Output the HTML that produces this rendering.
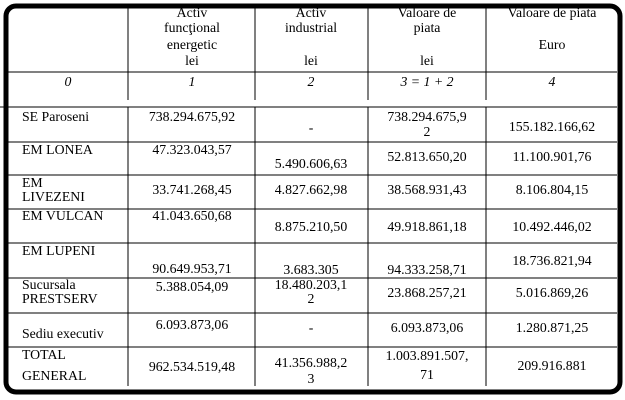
<!DOCTYPE html>
<html><head><meta charset="utf-8"><style>
html,body{margin:0;padding:0;background:#fff;}
svg{display:block;}
text{font-family:"Liberation Serif",serif;font-size:13.8px;fill:#000;}
.c{text-anchor:middle;}
.i{font-style:italic;}
</style></head><body>
<svg width="625" height="400" viewBox="0 0 625 400">
<rect x="6" y="6" width="614" height="386" rx="10" fill="none" stroke="#000" stroke-width="5"/>
<g stroke="#000" stroke-width="1">
<line x1="8" y1="72" x2="617" y2="72"/>
<line x1="0" y1="107" x2="617" y2="107"/>
<line x1="8" y1="142" x2="617" y2="142"/>
<line x1="8" y1="175" x2="617" y2="175"/>
<line x1="8" y1="209" x2="617" y2="209"/>
<line x1="8" y1="243" x2="617" y2="243"/>
<line x1="8" y1="278" x2="617" y2="278"/>
<line x1="8" y1="313" x2="617" y2="313"/>
<line x1="8" y1="347" x2="617" y2="347"/>
<line x1="128" y1="8" x2="128" y2="100"/><line x1="128" y1="107" x2="128" y2="386"/>
<line x1="255" y1="8" x2="255" y2="100"/><line x1="255" y1="107" x2="255" y2="386"/>
<line x1="368" y1="8" x2="368" y2="100"/><line x1="368" y1="107" x2="368" y2="386"/>
<line x1="486" y1="8" x2="486" y2="100"/><line x1="486" y1="107" x2="486" y2="386"/>
</g>
<text class="c" x="192" y="17">Activ</text>
<text class="c" x="192" y="32">funcţional</text>
<text class="c" x="192" y="49">energetic</text>
<text class="c" x="192" y="65">lei</text>
<text class="c" x="311" y="17">Activ</text>
<text class="c" x="311" y="32">industrial</text>
<text class="c" x="311" y="65">lei</text>
<text class="c" x="427" y="17">Valoare de</text>
<text class="c" x="427" y="32">piata</text>
<text class="c" x="427" y="65">lei</text>
<text class="c" x="552" y="17">Valoare de piata</text>
<text class="c" x="552" y="49">Euro</text>
<text class="c i" x="68" y="86">0</text>
<text class="c i" x="192" y="86">1</text>
<text class="c i" x="311" y="86">2</text>
<text class="c i" x="427" y="86">3 = 1 + 2</text>
<text class="c i" x="552" y="86">4</text>

<text x="22" y="121">SE Paroseni</text>
<text class="c" x="192" y="121">738.294.675,92</text>
<text class="c" x="311" y="132">-</text>
<text class="c" x="427" y="121">738.294.675,9</text>
<text class="c" x="427" y="136">2</text>
<text class="c" x="552" y="131">155.182.166,62</text>

<text x="22" y="154">EM LONEA</text>
<text class="c" x="192" y="154">47.323.043,57</text>
<text class="c" x="311" y="168">5.490.606,63</text>
<text class="c" x="427" y="161">52.813.650,20</text>
<text class="c" x="552" y="161">11.100.901,76</text>

<text x="22" y="187">EM</text>
<text x="22" y="201">LIVEZENI</text>
<text class="c" x="192" y="194">33.741.268,45</text>
<text class="c" x="311" y="194">4.827.662,98</text>
<text class="c" x="427" y="194">38.568.931,43</text>
<text class="c" x="552" y="194">8.106.804,15</text>

<text x="22" y="220">EM VULCAN</text>
<text class="c" x="192" y="220">41.043.650,68</text>
<text class="c" x="311" y="231">8.875.210,50</text>
<text class="c" x="427" y="231">49.918.861,18</text>
<text class="c" x="552" y="231">10.492.446,02</text>

<text x="22" y="255">EM LUPENI</text>
<text class="c" x="192" y="273">90.649.953,71</text>
<text class="c" x="311" y="274">3.683.305</text>
<text class="c" x="427" y="274">94.333.258,71</text>
<text class="c" x="552" y="265">18.736.821,94</text>

<text x="22" y="289">Sucursala</text>
<text x="22" y="303">PRESTSERV</text>
<text class="c" x="192" y="291">5.388.054,09</text>
<text class="c" x="311" y="289">18.480.203,1</text>
<text class="c" x="311" y="303">2</text>
<text class="c" x="427" y="297">23.868.257,21</text>
<text class="c" x="552" y="297">5.016.869,26</text>

<text x="22" y="338">Sediu executiv</text>
<text class="c" x="192" y="329">6.093.873,06</text>
<text class="c" x="311" y="332">-</text>
<text class="c" x="427" y="332">6.093.873,06</text>
<text class="c" x="552" y="332">1.280.871,25</text>

<text x="22" y="359">TOTAL</text>
<text x="22" y="380">GENERAL</text>
<text class="c" x="192" y="371">962.534.519,48</text>
<text class="c" x="311" y="367">41.356.988,2</text>
<text class="c" x="311" y="383">3</text>
<text class="c" x="427" y="360">1.003.891.507,</text>
<text class="c" x="427" y="379">71</text>
<text class="c" x="552" y="370">209.916.881</text>
</svg>
</body></html>
